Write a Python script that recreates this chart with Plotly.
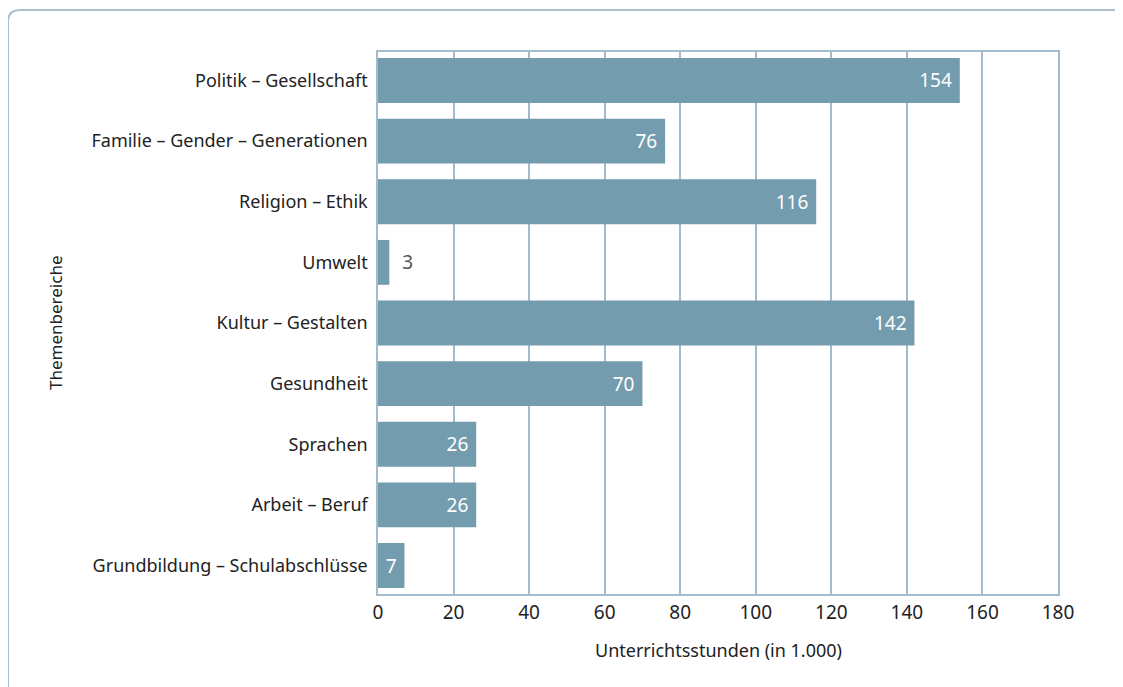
import plotly.graph_objects as go

categories = ["Politik – Gesellschaft", "Familie – Gender – Generationen", "Religion – Ethik",
              "Umwelt", "Kultur – Gestalten", "Gesundheit", "Sprachen", "Arbeit – Beruf",
              "Grundbildung – Schulabschlüsse"]
values = [154, 76, 116, 3, 142, 70, 26, 26, 7]
x_ticks = [0, 20, 40, 60, 80, 100, 120, 140, 160, 180]

OFF = 8  # page body margin
W, H = 1123 - OFF, 687 - OFF
L, R, T, B = 378 - OFF, 1058 - OFF, 52 - OFF, 594 - OFF
FONT = "Noto Sans, sans-serif"
BAR = "#739cae"
GRID = "#a3bccb"
TXT = "#222222"

positions = ["outside" if v < 5 else "inside" for v in values]
labels = [("\u00a0\u00a0" + str(v)) if v < 5 else (str(v) + "\u00a0") for v in values]

fig = go.Figure(go.Bar(
    x=values, y=categories, orientation="h",
    marker=dict(color=BAR, line=dict(width=0)),
    width=0.74,
    text=labels,
    textposition=positions,
    insidetextanchor="end",
    insidetextfont=dict(color="white", size=19, family=FONT),
    outsidetextfont=dict(color="#555555", size=19, family=FONT),
    cliponaxis=False,
    hoverinfo="skip",
))

def px(xp):
    return (xp - OFF - L) / (R - L)

def py(yp):
    return (B - (yp - OFF)) / (B - T)

r = 12
frame = (f"M {px(8)},{py(720)} L {px(8)},{py(10 + r)} "
         f"Q {px(8)},{py(10)} {px(8 + r)},{py(10)} "
         f"L {px(1112)},{py(10)} Q {px(1122)},{py(10)} {px(1122)},{py(20)} L {px(1122)},{py(720)}")

fig.update_layout(
    width=W, height=H,
    margin=dict(l=L, r=W - R, t=T, b=H - B),
    paper_bgcolor="white", plot_bgcolor="white",
    font=dict(family=FONT, color=TXT, size=18),
    showlegend=False,
    xaxis=dict(range=[0, 180], tickvals=x_ticks, showgrid=True, gridcolor=GRID, gridwidth=1.5,
               zeroline=False, showline=True, linecolor=GRID, linewidth=2, mirror=True,
               ticks="", tickfont=dict(size=19, color=TXT)),
    yaxis=dict(autorange=False, range=[8.47, -0.47], showgrid=False, zeroline=False,
               showline=True, linecolor=GRID, linewidth=2, mirror=True, ticks="",
               ticksuffix=" ", tickfont=dict(size=18, color=TXT)),
    shapes=[dict(type="path", path=frame, xref="paper", yref="paper",
                 line=dict(color="#a9c0cc", width=2), layer="above")],
)
fig.add_annotation(text="Themenbereiche", x=px(55), y=0.5, xref="paper", yref="paper",
                   textangle=-90, showarrow=False, font=dict(size=17, family=FONT, color=TXT),
                   xanchor="center", yanchor="middle")
fig.add_annotation(text="Unterrichtsstunden (in 1.000)", x=0.5, y=py(650), xref="paper", yref="paper",
                   showarrow=False, font=dict(size=18, family=FONT, color=TXT),
                   xanchor="center", yanchor="middle")

fig.write_html("out.html")
